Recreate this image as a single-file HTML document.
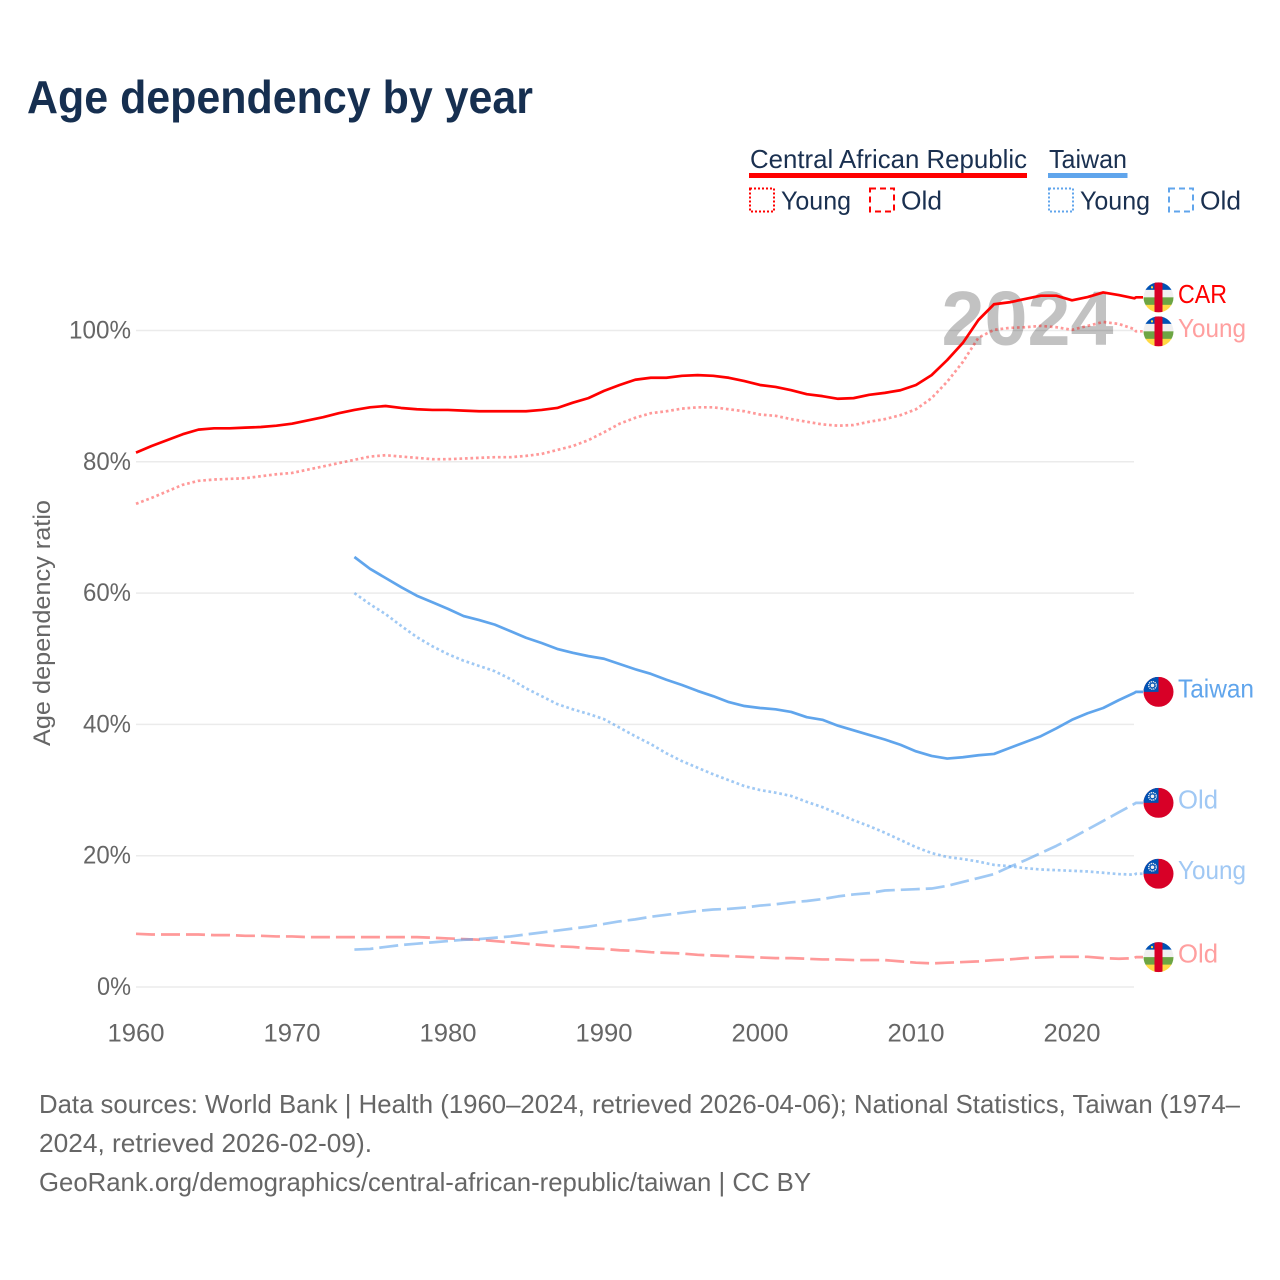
<!DOCTYPE html>
<html lang="en">
<head>
<meta charset="utf-8">
<title>Age dependency by year</title>
<style>
html,body{margin:0;padding:0;background:#fff;}
svg{display:block;font-family:"Liberation Sans",sans-serif;}
</style>
</head>
<body>
<svg id="chart" xmlns="http://www.w3.org/2000/svg" width="1280" height="1280" viewBox="0 0 1280 1280">
  <rect width="1280" height="1280" fill="#fff"/>
  <text x="27" y="113" font-size="46.500" font-weight="700" fill="#162f50" textLength="506" lengthAdjust="spacingAndGlyphs">Age dependency by year</text>

  <g fill="#1a3050" font-size="26">
    <text x="750" y="168" textLength="277" lengthAdjust="spacingAndGlyphs">Central African Republic</text>
    <rect x="749" y="173" width="278" height="5" fill="#ff0000"/>
    <rect x="750" y="188.500" width="24" height="23" fill="none" stroke="#ff0000" stroke-width="2" stroke-dasharray="2 2"/>
    <text x="781" y="209.500" textLength="70" lengthAdjust="spacingAndGlyphs">Young</text>
    <rect x="870" y="188.500" width="24" height="23" fill="none" stroke="#ff0000" stroke-width="2" stroke-dasharray="6 4"/>
    <text x="901" y="209.500" textLength="41" lengthAdjust="spacingAndGlyphs">Old</text>
    <text x="1049" y="168" textLength="78" lengthAdjust="spacingAndGlyphs">Taiwan</text>
    <rect x="1048" y="173" width="79.500" height="5" fill="#60a5ec"/>
    <rect x="1049" y="188.500" width="24" height="23" fill="none" stroke="#60a5ec" stroke-width="2" stroke-dasharray="2 2"/>
    <text x="1080" y="209.500" textLength="70" lengthAdjust="spacingAndGlyphs">Young</text>
    <rect x="1169" y="188.500" width="24" height="23" fill="none" stroke="#60a5ec" stroke-width="2" stroke-dasharray="6 4"/>
    <text x="1200" y="209.500" textLength="41" lengthAdjust="spacingAndGlyphs">Old</text>
  </g>

  <text x="1027.500" y="345" text-anchor="middle" font-size="77" font-weight="700" fill="#c2c2c2" textLength="172" lengthAdjust="spacingAndGlyphs">2024</text>

  <g id="grid"></g>
  <g id="yticks"></g>
  <g id="xticks"></g>
  <text transform="translate(50,623) rotate(-90)" text-anchor="middle" font-size="24" fill="#666" textLength="246" lengthAdjust="spacingAndGlyphs">Age dependency ratio</text>
  <g id="series"></g>
  <g id="labels"></g>

  <g font-size="26" fill="#666">
    <text x="39" y="1113" textLength="1201" lengthAdjust="spacingAndGlyphs">Data sources: World Bank | Health (1960–2024, retrieved 2026-04-06); National Statistics, Taiwan (1974–</text>
    <text x="39" y="1152" textLength="333" lengthAdjust="spacingAndGlyphs">2024, retrieved 2026-02-09).</text>
    <text x="39" y="1191" textLength="772" lengthAdjust="spacingAndGlyphs">GeoRank.org/demographics/central-african-republic/taiwan | CC BY</text>
  </g>
</svg>
<script>
const yTickValues = [0, 20, 40, 60, 80, 100];
const xTickValues = [1960, 1970, 1980, 1990, 2000, 2010, 2020];
const carYears = [1960,1961,1962,1963,1964,1965,1966,1967,1968,1969,1970,1971,1972,1973,1974,1975,1976,1977,1978,1979,1980,1981,1982,1983,1984,1985,1986,1987,1988,1989,1990,1991,1992,1993,1994,1995,1996,1997,1998,1999,2000,2001,2002,2003,2004,2005,2006,2007,2008,2009,2010,2011,2012,2013,2014,2015,2016,2017,2018,2019,2020,2021,2022,2023,2024];
const taiwanYears = [1974,1975,1976,1977,1978,1979,1980,1981,1982,1983,1984,1985,1986,1987,1988,1989,1990,1991,1992,1993,1994,1995,1996,1997,1998,1999,2000,2001,2002,2003,2004,2005,2006,2007,2008,2009,2010,2011,2012,2013,2014,2015,2016,2017,2018,2019,2020,2021,2022,2023,2024];
const carTotal = [81.4,82.4,83.3,84.2,84.9,85.1,85.1,85.2,85.3,85.5,85.8,86.3,86.8,87.4,87.9,88.3,88.5,88.2,88.0,87.9,87.9,87.8,87.7,87.7,87.7,87.7,87.9,88.2,89.0,89.7,90.8,91.7,92.5,92.8,92.8,93.1,93.2,93.1,92.8,92.3,91.7,91.4,90.9,90.3,90.0,89.6,89.7,90.2,90.5,90.9,91.7,93.2,95.5,98.1,101.6,104.0,104.3,104.8,105.3,105.3,104.6,105.1,105.8,105.4,104.9];
const carYoung = [73.6,74.5,75.5,76.5,77.1,77.3,77.4,77.5,77.8,78.1,78.3,78.8,79.3,79.8,80.3,80.8,81.0,80.8,80.6,80.4,80.4,80.5,80.6,80.7,80.7,80.9,81.2,81.8,82.4,83.3,84.5,85.8,86.7,87.4,87.7,88.1,88.3,88.3,88.0,87.7,87.2,87.0,86.5,86.1,85.7,85.5,85.6,86.1,86.5,87.1,88.0,89.7,92.2,95.2,98.9,100.1,100.4,100.5,100.7,100.5,100.1,100.7,101.3,101.0,100.2];
const carOld = [8.1,8.0,8.0,8.0,8.0,7.9,7.9,7.8,7.8,7.7,7.7,7.6,7.6,7.6,7.6,7.6,7.6,7.6,7.6,7.5,7.4,7.3,7.2,7.0,6.8,6.6,6.4,6.2,6.1,5.9,5.8,5.6,5.5,5.3,5.2,5.1,4.9,4.8,4.7,4.6,4.5,4.4,4.4,4.3,4.2,4.2,4.1,4.1,4.1,3.9,3.7,3.6,3.7,3.8,3.9,4.1,4.2,4.4,4.5,4.6,4.6,4.6,4.4,4.3,4.4];
const taiwanTotal = [65.5,63.7,62.3,60.9,59.6,58.6,57.6,56.5,55.9,55.2,54.2,53.2,52.4,51.5,50.9,50.4,50.0,49.2,48.4,47.7,46.8,46.0,45.1,44.3,43.4,42.8,42.5,42.3,41.9,41.1,40.7,39.8,39.1,38.4,37.7,36.9,35.9,35.2,34.8,35.0,35.3,35.5,36.4,37.3,38.2,39.4,40.7,41.7,42.5,43.7,44.8];
const taiwanYoung = [60.0,58.3,56.8,55.0,53.3,51.9,50.7,49.7,48.9,48.1,46.9,45.5,44.3,43.1,42.3,41.6,40.8,39.5,38.2,37.0,35.6,34.4,33.4,32.4,31.5,30.6,30.0,29.6,29.1,28.2,27.4,26.4,25.4,24.5,23.5,22.4,21.3,20.4,19.8,19.5,19.1,18.6,18.4,18.1,17.9,17.8,17.7,17.6,17.4,17.2,17.1];
const taiwanOld = [5.7,5.8,6.1,6.4,6.6,6.8,7.0,7.2,7.3,7.5,7.7,8.0,8.3,8.6,8.9,9.2,9.6,10.0,10.3,10.7,11.0,11.3,11.6,11.8,11.9,12.1,12.4,12.6,12.9,13.1,13.4,13.8,14.1,14.3,14.7,14.8,14.9,15.0,15.4,16.0,16.6,17.2,18.3,19.3,20.4,21.5,22.7,24.0,25.3,26.6,27.9];

const NS = 'http://www.w3.org/2000/svg';
function xScale(year){ return 136 + (year - 1960) * 15.6; }
function yScale(v){ return 987 - v * 6.565; }
function make(tag, attrs, parent){
  const el = document.createElementNS(NS, tag);
  for (const k in attrs) el.setAttribute(k, attrs[k]);
  parent.appendChild(el);
  return el;
}

const gridG = document.getElementById('grid');
const yTickG = document.getElementById('yticks');
yTickValues.forEach(function(v){
  const line = make('line', {x1:136, x2:1134, y1:yScale(v), y2:yScale(v), stroke:'#000', 'stroke-opacity':0.08, 'stroke-width':1.5}, gridG);
  
  
  const t = make('text', {x:131, y:yScale(v) + 8, 'text-anchor':'end', 'font-size':25, fill:'#666', textLength: v === 100 ? 62 : (v === 0 ? 34 : 48), lengthAdjust:'spacingAndGlyphs'}, yTickG);
  t.textContent = v + '%';
  
  
});
const xTickG = document.getElementById('xticks');
xTickValues.forEach(function(y){
  const t = make('text', {x:xScale(y), y:1041.5, 'text-anchor':'middle', 'font-size':25, fill:'#666', textLength:57, lengthAdjust:'spacingAndGlyphs'}, xTickG);
  t.textContent = y;
  
  
});

function labelY(values, prev){
  const y = yScale(values[values.length - 1]) - 1;
  return prev === null ? y : Math.max(y, prev + 34);
}

const dotted = '2.7 2.8';
const dashed = '19 6';
const seriesDefs = [
  {key:'car-old', years:carYears, values:carOld, color:'#ff0000', op:0.4, dash:dashed, label:'Old', lw:40, flag:'car'},
  {key:'car-young', years:carYears, values:carYoung, color:'#ff0000', op:0.4, dash:dotted, label:'Young', lw:68, flag:'car'},
  {key:'car-total', years:carYears, values:carTotal, color:'#ff0000', op:1, dash:null, label:'CAR', lw:49, flag:'car'},
  {key:'taiwan-old', years:taiwanYears, values:taiwanOld, color:'#60a5ec', op:0.6, dash:dashed, label:'Old', lw:40, flag:'tw'},
  {key:'taiwan-young', years:taiwanYears, values:taiwanYoung, color:'#60a5ec', op:0.6, dash:dotted, label:'Young', lw:68, flag:'tw'},
  {key:'taiwan-total', years:taiwanYears, values:taiwanTotal, color:'#60a5ec', op:1, dash:null, label:'Taiwan', lw:76, flag:'tw'}
];
const flagY = {};
flagY['car-total'] = labelY(carTotal, null);
flagY['car-young'] = labelY(carYoung, flagY['car-total']);
flagY['taiwan-total'] = labelY(taiwanTotal, null);
flagY['taiwan-old'] = labelY(taiwanOld, null);
flagY['taiwan-young'] = labelY(taiwanYoung, null);
flagY['car-old'] = labelY(carOld, flagY['taiwan-young']);

const seriesG = document.getElementById('series');
const labelG = document.getElementById('labels');
const FX = 1158.5;
let clipId = 0;

function drawCarFlag(g, cy){
  const id = 'flagclip' + (clipId++);
  const cp = make('clipPath', {id:id}, g);
  make('circle', {cx:FX, cy:cy, r:15}, cp);
  const b = make('g', {'clip-path':'url(#' + id + ')'}, g);
  make('rect', {x:FX-15, y:cy-15, width:30, height:8, fill:'#0052b4'}, b);
  make('rect', {x:FX-15, y:cy-7.500, width:30, height:8, fill:'#f0f0f0'}, b);
  make('rect', {x:FX-15, y:cy, width:30, height:8, fill:'#6da544'}, b);
  make('rect', {x:FX-15, y:cy+7.500, width:30, height:8, fill:'#ffda44'}, b);
  make('rect', {x:FX-4, y:cy-15, width:8, height:30, fill:'#d80027'}, b);
  make('rect', {x:FX-7.500, y:cy-11, width:2, height:2, fill:'#ffda44'}, b);
}
function drawTaiwanFlag(g, cy){
  const id = 'flagclip' + (clipId++);
  const cp = make('clipPath', {id:id}, g);
  make('circle', {cx:FX, cy:cy, r:15}, cp);
  const b = make('g', {'clip-path':'url(#' + id + ')'}, g);
  make('rect', {x:FX-15, y:cy-15, width:30, height:30, fill:'#d80027'}, b);
  make('rect', {x:FX-15, y:cy-15, width:15, height:15, fill:'#0052b4'}, b);
  make('circle', {cx:FX-6, cy:cy-6.500, r:3.800, fill:'none', stroke:'#f0f0f0', 'stroke-width':1.400, 'stroke-dasharray':'1.200 0.800'}, b);
  make('circle', {cx:FX-6, cy:cy-6.500, r:1.800, fill:'#f0f0f0'}, b);
}

seriesDefs.forEach(function(s){
  const n = s.values.length;
  const fy = flagY[s.key];
  let d = '';
  for (let i = 0; i < n; i++) {
    d += (i ? 'L' : 'M') + xScale(s.years[i]).toFixed(2) + ' ' + yScale(s.values[i]).toFixed(2);
  }
  d += 'L' + (xScale(s.years[n-1]) + 1.5).toFixed(2) + ' ' + fy.toFixed(2) + 'L1143 ' + fy.toFixed(2);
  const attrs = {d:d, fill:'none', stroke:s.color, 'stroke-opacity':s.op, 'stroke-width':2.7, 'stroke-linejoin':'round'};
  if (s.dash) attrs['stroke-dasharray'] = s.dash;
  const p = make('path', attrs, seriesG);
  
  

  const fg = make('g', {}, labelG);
  
  
  if (s.flag === 'car') drawCarFlag(fg, fy); else drawTaiwanFlag(fg, fy);

  const labelColor = s.op === 1 ? s.color : (s.flag === 'car' ? '#ff9f9f' : '#a0c8f4');
  const t = make('text', {x:1178, y:fy + 5.5, 'font-size':26, fill:labelColor, textLength:s.lw, lengthAdjust:'spacingAndGlyphs'}, labelG);
  t.textContent = s.label;
  
  
});
</script>
</body>
</html>
